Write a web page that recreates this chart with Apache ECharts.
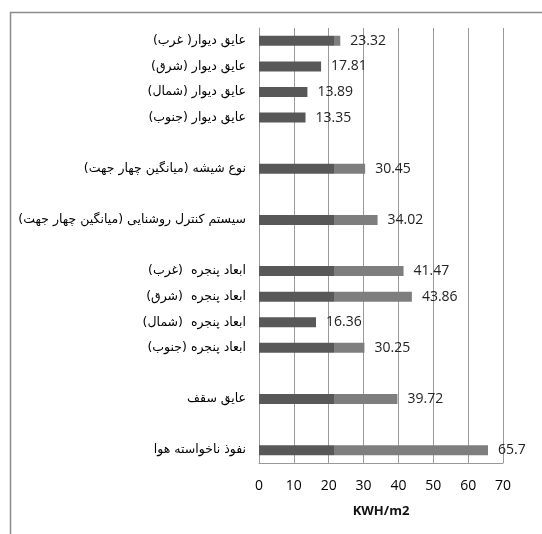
<!DOCTYPE html>
<html>
<head>
<meta charset="utf-8">
<script src="https://cdn.jsdelivr.net/npm/echarts@6/dist/echarts.min.js"></script>
<style>
  html, body { margin: 0; padding: 0; background: #fff; }
  #chart { width: 542px; height: 534px; }
</style>
</head>
<body>
<div id="chart" dir="rtl"></div>
<script>
// categories top to bottom, blank rows are gaps in the original chart
const categories = [
  'عایق دیوار( غرب)',
  'عایق دیوار (شرق)',
  'عایق دیوار (شمال)',
  'عایق دیوار (جنوب)',
  ' ',
  'نوع شیشه (میانگین چهار جهت)',
  '  ',
  'سیستم کنترل روشنایی (میانگین چهار جهت)',
  '   ',
  'ابعاد پنجره  (غرب)',
  'ابعاد پنجره  (شرق)',
  'ابعاد پنجره  (شمال)',
  'ابعاد پنجره (جنوب)',
  '    ',
  'عایق سقف',
  '     ',
  'نفوذ ناخواسته هوا'
];
const values = [23.32, 17.81, 13.89, 13.35, null, 30.45, null, 34.02, null,
  41.47, 43.86, 16.36, 30.25, null, 39.72, null, 65.7];
const xTicks = [0, 10, 20, 30, 40, 50, 60, 70];

const chart = echarts.init(document.getElementById('chart'));

// bars turn lighter past ~21.5 on the axis (x pixel ~334)
const barColor = {
  type: 'linear', x: 0, y: 0, x2: 542, y2: 0, global: true,
  colorStops: [
    { offset: 0, color: '#585858' },
    { offset: 0.616, color: '#585858' },
    { offset: 0.617, color: '#7e7e7e' },
    { offset: 1, color: '#7e7e7e' }
  ]
};

chart.setOption({
  animation: false,
  graphic: [{
    type: 'rect', left: 8, top: 10,
    shape: { width: 600, height: 600 },
    style: { fill: 'none', stroke: '#8c8c8c', lineWidth: 1.5 }
  }],
  grid: { left: 259, right: 39, top: 28, bottom: 71, containLabel: false },
  xAxis: {
    type: 'value', min: xTicks[0], max: xTicks[xTicks.length - 1], interval: 10,
    name: 'KWH/m2', nameLocation: 'middle', nameGap: 42,
    nameTextStyle: { fontFamily: 'Open Sans', fontWeight: 'bold', fontSize: 13, color: '#111' },
    axisLine: { show: true, lineStyle: { color: '#999' } },
    axisTick: { show: false },
    axisLabel: { fontFamily: 'Open Sans', fontSize: 14, color: '#000', margin: 16 },
    splitLine: { show: true, lineStyle: { color: '#999' } }
  },
  yAxis: {
    type: 'category', data: categories, inverse: true,
    axisLine: { show: true, lineStyle: { color: '#999' } },
    axisTick: { show: false },
    axisLabel: { fontFamily: 'DejaVu Sans', fontSize: 12.5, color: '#000', margin: 13 }
  },
  series: [{
    type: 'bar', data: values, barWidth: 10,
    itemStyle: { color: barColor },
    label: {
      show: true, position: 'right', distance: 10,
      fontFamily: 'Open Sans', fontSize: 14, color: '#222'
    }
  }]
});
</script>
</body>
</html>
